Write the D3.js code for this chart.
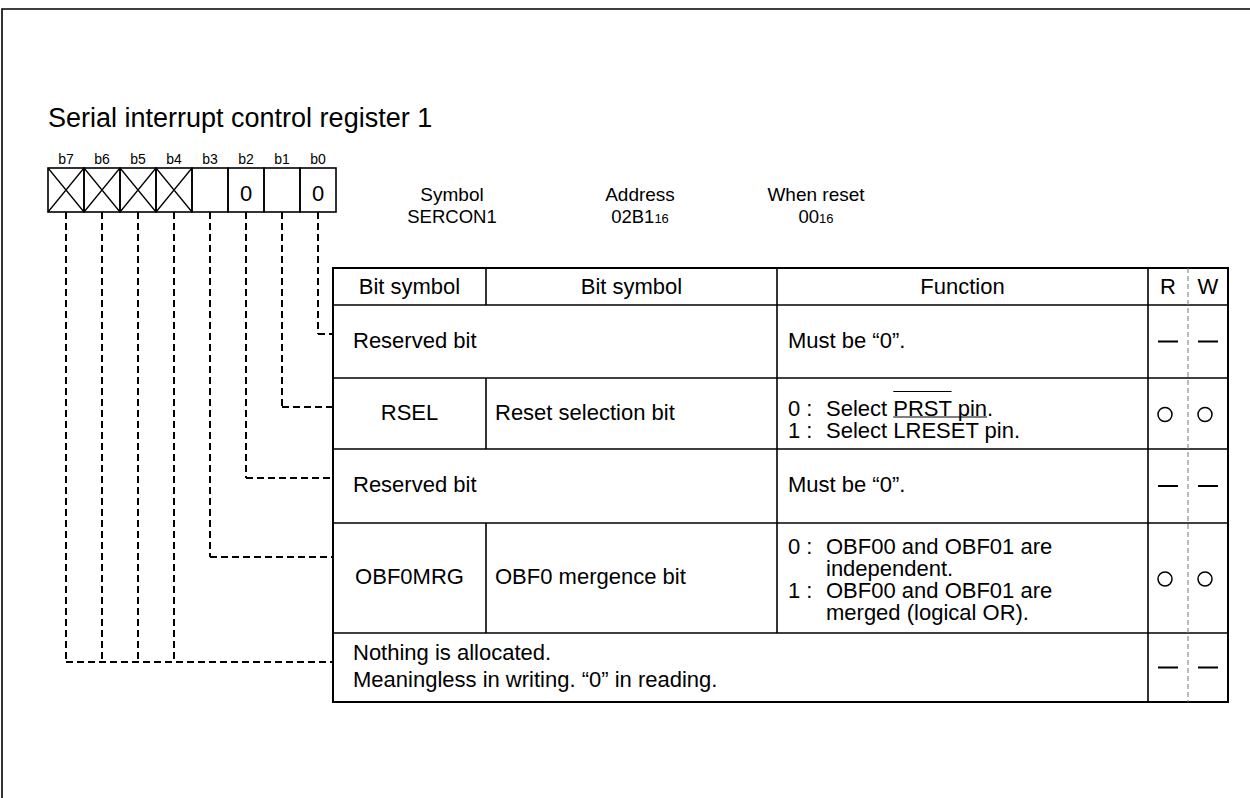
<!DOCTYPE html>
<html><head><meta charset="utf-8">
<script src="https://cdn.jsdelivr.net/npm/d3@7"></script>
<style>html,body{margin:0;padding:0;background:#fff}svg{display:block}text{font-family:"Liberation Sans",Arial,Helvetica,sans-serif;fill:#000}</style>
</head><body><svg id="c" width="1250" height="798"></svg>
<script>
// ---------- data ----------
const title = "Serial interrupt control register 1";
const bitLabels = ["b7","b6","b5","b4","b3","b2","b1","b0"];
const bitContents = ["x","x","x","x","","0","","0"];
const infoHeads = ["Symbol","Address","When reset"];
const infoValues = ["SERCON1","02B1","00"];
const infoSuffix = ["","16","16"];
const headerLabels = ["Bit symbol","Bit symbol","Function","R","W"];
const rowBits = [["b0"],["b1"],["b2"],["b3"],["b7","b6","b5","b4"]];
const rowSymbol = [null,"RSEL",null,"OBF0MRG",null];
const rowName = [["Reserved bit"],["Reset selection bit"],["Reserved bit"],["OBF0 mergence bit"],["Nothing is allocated.","Meaningless in writing. \u201C0\u201D in reading."]];
const rowSpan = [2,1,2,1,3];
const rowFunction = [
  [{n:null, lines:["Must be \u201C0\u201D."]}],
  [{n:"0", lines:["Select ~PRST~ pin."]},{n:"1", lines:["Select LRESET pin."]}],
  [{n:null, lines:["Must be \u201C0\u201D."]}],
  [{n:"0", lines:["OBF00 and OBF01 are","independent."]},{n:"1", lines:["OBF00 and OBF01 are","merged (logical OR)."]}],
  []
];
const rowRead  = ["-","o","-","o","-"];
const rowWrite = ["-","o","-","o","-"];

// ---------- layout ----------
const svg = d3.select("#c");
const FS = 22;
const colEdges = [333,486,777,1148,1188,1228];
const rowHeights = [37,73,71,74,110,69];
const tableTop = 268;
const yEdges = Array.from(d3.cumsum([tableTop, ...rowHeights]));
const boxTop = 168, boxBot = 212;

// frame
svg.append("path").attr("d","M2,798V9H1250").attr("fill","none").attr("stroke","#000").attr("stroke-width",1.6);

// title
svg.append("text").attr("x",48).attr("y",127).attr("font-size",27).text(title);

// bit box
const xBit = d3.scaleBand().domain(bitLabels).range([48,336]);
const bw = xBit.bandwidth();
const cx = b => xBit(b) + bw/2;
svg.selectAll(".bl").data(bitLabels).join("text").attr("class","bl")
  .attr("x", d => cx(d)).attr("y", 164).attr("text-anchor","middle").attr("font-size",14).text(d => d);
const cells = svg.selectAll(".cell").data(bitLabels.map((b,i)=>({b, v:bitContents[i]}))).join("g").attr("class","cell");
cells.append("rect").attr("x", d => xBit(d.b)).attr("y", boxTop).attr("width", bw).attr("height", boxBot-boxTop)
  .attr("fill","none").attr("stroke","#000").attr("stroke-width",1.6);
cells.filter(d => d.v === "x").append("path")
  .attr("d", d => `M${xBit(d.b)},${boxTop}L${xBit(d.b)+bw},${boxBot}M${xBit(d.b)+bw},${boxTop}L${xBit(d.b)},${boxBot}`)
  .attr("stroke","#000").attr("stroke-width",1.3).attr("fill","none");
cells.filter(d => d.v !== "x" && d.v !== "").append("text")
  .attr("x", d => cx(d.b)).attr("y", 201).attr("text-anchor","middle").attr("font-size",FS).text(d => d.v);

// info
const infoX = [452, 640, 816];
infoHeads.forEach((h,i) => {
  svg.append("text").attr("x",infoX[i]).attr("y",201).attr("text-anchor","middle").attr("font-size",19).text(h);
  const t = svg.append("text").attr("x",infoX[i]).attr("y",223).attr("text-anchor","middle").attr("font-size",18.5);
  t.append("tspan").text(infoValues[i]);
  if (infoSuffix[i]) t.append("tspan").attr("font-size",13).text(infoSuffix[i]);
});

// table
const T = svg.append("g");
const L = colEdges[0], R = colEdges[colEdges.length-1];
T.append("rect").attr("x",L).attr("y",yEdges[0]).attr("width",R-L).attr("height",yEdges[6]-yEdges[0])
  .attr("fill","none").attr("stroke","#000").attr("stroke-width",2);
for (let k=1;k<6;k++) T.append("line").attr("x1",L).attr("x2",R).attr("y1",yEdges[k]).attr("y2",yEdges[k]).attr("stroke","#000").attr("stroke-width",1.6);
for (let r=0;r<6;r++){
  const span = r===0 ? 1 : rowSpan[r-1];
  const y1=yEdges[r], y2=yEdges[r+1];
  if (span===1) T.append("line").attr("x1",colEdges[1]).attr("x2",colEdges[1]).attr("y1",y1).attr("y2",y2).attr("stroke","#000").attr("stroke-width",1.6);
  if (span<=2) T.append("line").attr("x1",colEdges[2]).attr("x2",colEdges[2]).attr("y1",y1).attr("y2",y2).attr("stroke","#000").attr("stroke-width",1.6);
  T.append("line").attr("x1",colEdges[3]).attr("x2",colEdges[3]).attr("y1",y1).attr("y2",y2).attr("stroke","#000").attr("stroke-width",1.6);
}
T.append("line").attr("x1",colEdges[4]).attr("x2",colEdges[4]).attr("y1",yEdges[0]).attr("y2",yEdges[6])
  .attr("stroke","#777").attr("stroke-width",1).attr("stroke-dasharray","5,3");

// header
headerLabels.forEach((h,k) => {
  T.append("text").attr("x",(colEdges[k]+colEdges[k+1])/2).attr("y",(yEdges[0]+yEdges[1])/2+7)
    .attr("text-anchor","middle").attr("font-size",FS).text(h);
});

// rows
rowName.forEach((names,i) => {
  const top = yEdges[i+1], bot = yEdges[i+2], mid = (top+bot)/2;
  if (rowSymbol[i]) {
    T.append("text").attr("x",(colEdges[0]+colEdges[1])/2).attr("y",mid+6).attr("text-anchor","middle").attr("font-size",FS).text(rowSymbol[i]);
    T.append("text").attr("x",colEdges[1]+9).attr("y",mid+6).attr("font-size",FS).text(names[0]);
  } else {
    const gap = 27;
    const t = T.append("text").attr("font-size",FS);
    names.forEach((n,j) => {
      t.append("tspan").attr("x",colEdges[0]+20).attr("y",mid-(names.length-1)*gap/2+6+j*gap).text(n);
    });
  }
  // function cell: one text element
  const items = rowFunction[i];
  if (items.length) {
    const nLines = d3.sum(items, d => d.lines.length);
    const gap = 22;
    let y = nLines>2 ? mid-(nLines-1)*gap/2+9 : (nLines===2 ? mid-(nLines-1)*gap/2+13 : mid+6);
    const t = T.append("text").attr("font-size",FS);
    let idx = 0;
    const marks = [];
    items.forEach(it => {
      if (it.n !== null) {
        const s = it.n + " :";
        t.append("tspan").attr("x",colEdges[2]+11).attr("y",y).text(s);
        idx += s.length;
      }
      it.lines.forEach(line => {
        const tx = it.n !== null ? colEdges[2]+49 : colEdges[2]+11;
        const parts = line.split("~");
        parts.forEach((p,pi) => {
          const sp = t.append("tspan").text(p);
          if (pi===0) sp.attr("x",tx).attr("y",y);
        });
        if (parts.length > 1) {
          const s = idx + parts[0].length, e = s + parts[1].length;
          const pinLen = parts[2].replace(/\.$/,"").length;
          marks.push({y, s, e, pe: e + pinLen});
        }
        idx += parts.join("").length;
        y += gap;
      });
    });
    const node = t.node();
    marks.forEach(m => {
      const x0 = node.getStartPositionOfChar(m.s).x, x1 = node.getEndPositionOfChar(m.e-1).x;
      const x2 = node.getEndPositionOfChar(m.pe-1).x;
      T.append("line").attr("x1",x0).attr("x2",x1).attr("y1",m.y-24).attr("y2",m.y-24).attr("stroke","#000").attr("stroke-width",1.2);
      T.append("line").attr("x1",x0).attr("x2",x2).attr("y1",m.y+1.5).attr("y2",m.y+1.5).attr("stroke","#000").attr("stroke-width",1.2);
    });
  }
  // R / W
  [rowRead[i], rowWrite[i]].forEach((m,k) => {
    const c = (colEdges[3+k]+colEdges[4+k])/2;
    if (m === "-") T.append("line").attr("x1",c-10).attr("x2",c+10).attr("y1",mid).attr("y2",mid).attr("stroke","#000").attr("stroke-width",2);
    else T.append("circle").attr("cx",c-3).attr("cy",mid+1).attr("r",7).attr("fill","none").attr("stroke","#000").attr("stroke-width",1.5);
  });
  // connectors
  const yC = top + ((bot-top) > 100 ? 34 : 29);
  const xs = rowBits[i].map(cx);
  const g = svg.append("g").attr("stroke","#000").attr("stroke-width",2).attr("stroke-dasharray","7,4").attr("fill","none");
  xs.forEach(x => g.append("line").attr("x1",x).attr("x2",x).attr("y1",boxBot).attr("y2",yC));
  g.append("line").attr("x1",d3.min(xs)).attr("x2",L).attr("y1",yC).attr("y2",yC);
});
</script></body></html>
